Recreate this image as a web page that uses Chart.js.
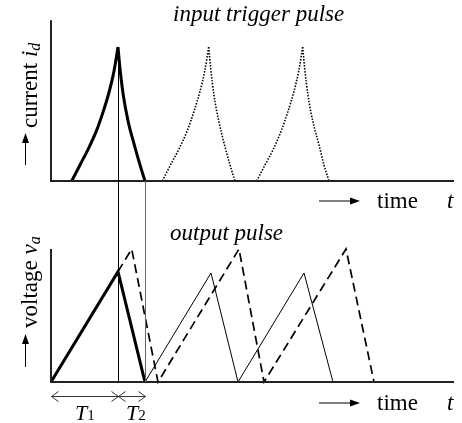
<!DOCTYPE html>
<html>
<head>
<meta charset="utf-8">
<script src="https://cdn.jsdelivr.net/npm/chart.js@4.4.0/dist/chart.umd.min.js"></script>
<style>
  html, body { margin: 0; padding: 0; background: #fff; }
  canvas { display: block; }
</style>
</head>
<body>
<canvas id="pulses" width="462" height="423"></canvas>
<script>
// time in arbitrary units (0 = vertical axis), current and voltage scaled so the peak is 1
// input trigger pulses: one shape, three start times (null splits rise from decay)
const triggerCurrent = [0, 0.12, 0.24, 0.38, 0.52, 0.67, 0.82, 1.0, null, 1.0, 0.84, 0.64, 0.44, 0.27, 0.12, 0];
const trigger1Time = [2.07, 2.9, 3.73, 4.57, 5.23, 5.83, 6.3, 6.7, 6.7, 6.7, 6.9, 7.23, 7.73, 8.33, 8.9, 9.4];
const trigger2Time = [11.13, 11.95, 12.8, 13.65, 14.3, 14.9, 15.37, 15.77, 15.77, 15.77, 15.97, 16.3, 16.8, 17.35, 17.9, 18.4];
const trigger3Time = [20.57, 21.4, 22.25, 23.05, 23.7, 24.3, 24.77, 25.17, 25.17, 25.17, 25.37, 25.7, 26.2, 26.8, 27.3, 27.8];

// output pulses
const outTime1 = [0, 6.7, 9.4];
const outVolt1 = [0, 0.83, 0];
const outTime2 = [6.7, 8.07, 10.7, 18.8, 21.3, 29.5, 32.3];
const outVolt2 = [0.83, 1.0, 0, 1.0, 0, 1.0, 0];
const outTime3 = [9.4, 16.0, 18.7, 25.3, 28.2];
const outVolt3 = [0, 0.82, 0, 0.82, 0];

// axis frames of both panels
const frameTime = [0, 0, 40.3];
const frameCurrent = [1.2, 0, 0];
const frameVolt = [1.0, 0, 0];

const T1 = 6.7;
const T2 = 2.7;

function pts(xs, ys) {
  return xs.map((x, i) => ({ x: x, y: ys[i] }));
}

const serif = '"Liberation Serif", "DejaVu Serif", serif';

function drawRuns(ctx, runs, x, y) {
  let cx = x;
  runs.forEach(r => {
    ctx.font = r.f;
    ctx.fillText(r.t, cx, y + (r.dy || 0));
    cx += ctx.measureText(r.t).width;
  });
}

function arrowRight(ctx, x0, x1, y) {
  ctx.beginPath();
  ctx.moveTo(x0, y); ctx.lineTo(x1 - 6, y); ctx.stroke();
  ctx.beginPath();
  ctx.moveTo(x1, y); ctx.lineTo(x1 - 10, y - 3.5); ctx.lineTo(x1 - 10, y + 3.5);
  ctx.closePath(); ctx.fill();
}

function arrowUp(ctx, x, y0, y1) {
  ctx.beginPath();
  ctx.moveTo(x, y0); ctx.lineTo(x, y1 + 6); ctx.stroke();
  ctx.beginPath();
  ctx.moveTo(x, y1); ctx.lineTo(x - 3.5, y1 + 10); ctx.lineTo(x + 3.5, y1 + 10);
  ctx.closePath(); ctx.fill();
}

const diagramExtras = {
  id: 'diagramExtras',
  afterDatasetsDraw(chart) {
    const ctx = chart.ctx;
    const x = chart.scales.x, yI = chart.scales.yI, yV = chart.scales.yV;
    const px = v => Math.round(x.getPixelForValue(v)) + 0.5;
    ctx.save();
    ctx.lineWidth = 1;

    // guide lines from the trigger pulse down to the output panel
    ctx.strokeStyle = '#000';
    ctx.beginPath();
    ctx.moveTo(px(T1), yI.getPixelForValue(1));
    ctx.lineTo(px(T1), yV.getPixelForValue(0));
    ctx.stroke();
    ctx.strokeStyle = '#666';
    ctx.beginPath();
    ctx.moveTo(px(T1 + T2), yI.getPixelForValue(0));
    ctx.lineTo(px(T1 + T2), yV.getPixelForValue(0));
    ctx.stroke();

    // T1 / T2 dimension arrows
    const dy = 396.5, a0 = px(0), a1 = px(T1), a2 = px(T1 + T2);
    ctx.strokeStyle = '#333';
    ctx.beginPath();
    ctx.moveTo(a0, dy); ctx.lineTo(a2, dy);
    ctx.moveTo(a0 + 7, dy - 5); ctx.lineTo(a0, dy); ctx.lineTo(a0 + 7, dy + 5);
    ctx.moveTo(a1 - 7, dy - 5); ctx.lineTo(a1 + 7, dy + 5);
    ctx.moveTo(a1 + 7, dy - 5); ctx.lineTo(a1 - 7, dy + 5);
    ctx.moveTo(a2 - 7, dy - 5); ctx.lineTo(a2, dy); ctx.lineTo(a2 - 7, dy + 5);
    ctx.stroke();

    ctx.fillStyle = '#000';
    ctx.strokeStyle = '#000';
    ctx.textBaseline = 'alphabetic';
    ctx.textAlign = 'left';

    drawRuns(ctx, [{ t: 'T', f: 'italic 22px ' + serif }, { t: '1', f: '15px ' + serif }], 75, 420);
    drawRuns(ctx, [{ t: 'T', f: 'italic 22px ' + serif }, { t: '2', f: '15px ' + serif }], 126, 420);

    // panel titles
    drawRuns(ctx, [{ t: 'input trigger pulse', f: 'italic 23px ' + serif }], 173, 21);
    drawRuns(ctx, [{ t: 'output pulse', f: 'italic 23px ' + serif }], 170, 240);

    // time axis labels
    [208, 410].forEach(base => {
      arrowRight(ctx, 319, 360, base - 7);
      drawRuns(ctx, [{ t: 'time', f: '23px ' + serif }], 377, base);
      drawRuns(ctx, [{ t: 't', f: 'italic 23px ' + serif }], 447, base);
    });

    // vertical axis labels
    arrowUp(ctx, 25.5, 165, 133);
    arrowUp(ctx, 25.5, 367, 334);
    ctx.save();
    ctx.translate(36.5, 128);
    ctx.rotate(-Math.PI / 2);
    drawRuns(ctx, [{ t: 'current ', f: '23px ' + serif }, { t: 'i', f: 'italic 23px ' + serif },
      { t: 'd', f: 'italic 16px ' + serif, dy: 3 }], 0, 0);
    ctx.restore();
    ctx.save();
    ctx.translate(36.5, 328);
    ctx.rotate(-Math.PI / 2);
    drawRuns(ctx, [{ t: 'voltage ', f: '23px ' + serif }, { t: 'v', f: 'italic 23px ' + serif },
      { t: 'a', f: 'italic 16px ' + serif, dy: 3 }], 0, 0);
    ctx.restore();

    ctx.restore();
  }
};

const triggerStyle = {
  yAxisID: 'yI',
  cubicInterpolationMode: 'monotone',
  spanGaps: false,
  borderColor: '#000'
};

new Chart(document.getElementById('pulses'), {
  type: 'line',
  data: {
    datasets: [
      { label: 'current axes', data: pts(frameTime, frameCurrent), yAxisID: 'yI', borderColor: '#222', borderWidth: 2 },
      { label: 'voltage axes', data: pts(frameTime, frameVolt), yAxisID: 'yV', borderColor: '#222', borderWidth: 2 },
      Object.assign({ label: 'trigger 1', data: pts(trigger1Time, triggerCurrent), borderWidth: 3 }, triggerStyle),
      Object.assign({ label: 'trigger 2', data: pts(trigger2Time, triggerCurrent), borderWidth: 1.6, borderDash: [1.5, 1.5] }, triggerStyle),
      Object.assign({ label: 'trigger 3', data: pts(trigger3Time, triggerCurrent), borderWidth: 1.6, borderDash: [1.5, 1.5] }, triggerStyle),
      { label: 'output 1', data: pts(outTime1, outVolt1), yAxisID: 'yV', borderColor: '#000', borderWidth: 3 },
      { label: 'output dashed', data: pts(outTime2, outVolt2), yAxisID: 'yV', borderColor: '#000', borderWidth: 1.7, borderDash: [9, 5] },
      { label: 'output thin', data: pts(outTime3, outVolt3), yAxisID: 'yV', borderColor: '#000', borderWidth: 1 }
    ]
  },
  options: {
    responsive: false,
    animation: false,
    layout: { padding: 0 },
    elements: {
      point: { radius: 0, hoverRadius: 0 },
      line: { tension: 0, borderJoinStyle: 'miter', fill: false }
    },
    scales: {
      x: { type: 'linear', display: false, min: -5.1, max: 41.1 },
      yI: { display: false, min: -1.806, max: 1.351 },
      yV: { display: false, min: -0.308, max: 2.872 }
    },
    plugins: {
      legend: { display: false },
      tooltip: { enabled: false }
    }
  },
  plugins: [diagramExtras]
});
</script>
</body>
</html>
